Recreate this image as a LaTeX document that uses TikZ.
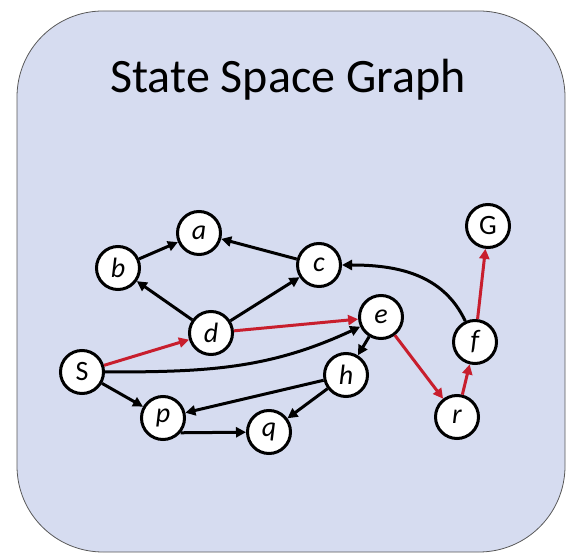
\documentclass[tikz,border=0pt]{standalone}
\usepackage{fontspec}
\setmainfont{Carlito}
\usetikzlibrary{arrows.meta, positioning}
\definecolor{panelblue}{RGB}{214,220,240}
\definecolor{pathred}{RGB}{200,30,45}

\begin{document}
\begin{tikzpicture}[
    x=1pt, y=1pt,
    % Define styles
    panel/.style={
        draw=black!65,
        fill=panelblue,
        line width=0.8pt,
        rounded corners=86pt
    },
    state/.style={
        circle,
        draw=black,
        fill=white,
        line width=3pt,
        minimum size=43pt,
        inner sep=0pt,
        font=\fontsize{28}{32}\selectfont\itshape
    },
    line/.style={
        draw,
        -{Triangle[length=10pt, width=10pt]},
        line width=3pt,
        black
    },
    redline/.style={
        line,
        pathred
    }
]

\useasboundingbox (0,0) rectangle (569,553);

% Background panel and title
\path[panel] (17,1) rectangle (565,542);
\node[font=\fontsize{48}{58}\selectfont] (title) at (288,473) {State Space Graph};

% Place nodes
\node[state] (a) at (199,320) {a};
\node[state] (b) at (118,285) {b};
\node[state] (c) at (319,288) {c};
\node[state] (d) at (211,220) {d};
\node[state] (e) at (381,236) {e};
\node[state, font=\fontsize{28}{32}\selectfont] (S) at (82,181) {S};
\node[state] (h) at (346,178) {h};
\node[state] (p) at (163,135) {p};
\node[state] (q) at (269,121) {q};
\node[state] (r) at (457,136) {r};
\node[state] (f) at (475,211) {f};
\node[state, font=\fontsize{28}{32}\selectfont] (G) at (488,327) {G};

% Draw edges
\path[line] (b) -- (a);
\path[line] (c) -- (a);
\path[line] (d) -- (b);
\path[line] (d) -- (c);
\path[line] (S) -- (p);
\path[line] (h) -- (p);
\path[line] (h) -- (q);
\path[line] (p.-40) -- (q);
\path[line] (e) -- (h);
\path[line] (S) to[out=0, in=205] (e);
\path[line] (f) to[out=115, in=0] (c);

% Red path S -> G
\path[redline] (S) -- (d);
\path[redline] (d) -- (e);
\path[redline] (e) -- (r);
\path[redline] (r) -- (f);
\path[redline] (f) -- (G);

\end{tikzpicture}
\end{document}
